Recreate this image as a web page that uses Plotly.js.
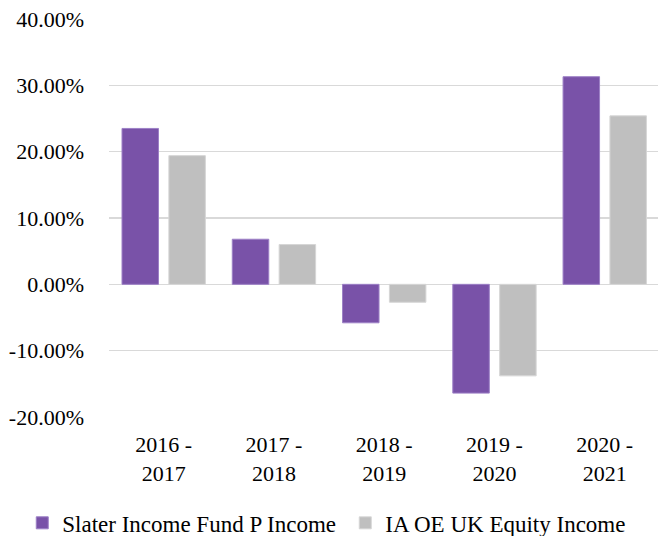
<!DOCTYPE html>
<html>
<head>
<meta charset="utf-8">
<script src="https://cdn.plot.ly/plotly-3.0.1.min.js"></script>
<style>
html, body { margin: 0; padding: 0; background: #ffffff; }
#chart { width: 658px; height: 536px; }
</style>
</head>
<body>
<div id="chart"></div>
<script>
const categories = ["2016 -<br>2017", "2017 -<br>2018", "2018 -<br>2019", "2019 -<br>2020", "2020 -<br>2021"];
const seriesNames = ["Slater Income Fund P Income", "IA OE UK Equity Income"];
const slaterValues = [0.235, 0.068, -0.058, -0.164, 0.313];
const sectorValues = [0.194, 0.060, -0.027, -0.138, 0.254];
const yTickValues = [-0.2, -0.1, 0, 0.1, 0.2, 0.3, 0.4];
const yTickLabels = ["-20.00%", "-10.00%", "0.00%", "10.00%", "20.00%", "30.00%", "40.00%"];

const fontFamily = "Times New Roman, Liberation Serif, serif";

const traces = [
  {
    type: "bar",
    name: seriesNames[0],
    x: categories,
    y: slaterValues,
    width: 0.331,
    offset: -0.378,
    marker: { color: "#7952A8", line: { color: "#9d80c6", width: 1 } },
    hoverinfo: "skip"
  },
  {
    type: "bar",
    name: seriesNames[1],
    x: categories,
    y: sectorValues,
    width: 0.331,
    offset: 0.047,
    marker: { color: "#BFBFBF", line: { color: "#d6d6d6", width: 1 } },
    hoverinfo: "skip"
  }
];

const layout = {
  width: 658,
  height: 536,
  margin: { l: 109, r: 0, t: 19, b: 119, autoexpand: false },
  paper_bgcolor: "#ffffff",
  plot_bgcolor: "#ffffff",
  font: { family: fontFamily, size: 22, color: "#000000" },
  barmode: "overlay",
  showlegend: true,
  legend: {
    orientation: "h",
    x: -0.158,
    xanchor: "left",
    y: -0.266,
    yanchor: "middle",
    font: { family: fontFamily, size: 23, color: "#000000" },
    itemwidth: 30,
    entrywidth: 278,
    tracegroupgap: 0,
    bgcolor: "rgba(0,0,0,0)"
  },
  xaxis: {
    type: "category",
    range: [-0.496, 4.483],
    showgrid: false,
    zeroline: false,
    showline: false,
    ticks: "",
    ticklabelstandoff: 12,
    tickfont: { family: fontFamily, size: 22, color: "#000000" },
    fixedrange: true
  },
  yaxis: {
    range: [-0.2, 0.4],
    tickvals: yTickValues,
    ticktext: yTickLabels,
    showgrid: true,
    gridcolor: "#d9d9d9",
    gridwidth: 1.3,
    zeroline: true,
    zerolinecolor: "#d9d9d9",
    zerolinewidth: 1.3,
    showline: false,
    ticks: "",
    ticklabelstandoff: 24,
    tickfont: { family: fontFamily, size: 22, color: "#000000" },
    fixedrange: true
  }
};

Plotly.newPlot("chart", traces, layout, { displayModeBar: false, staticPlot: true });
</script>
</body>
</html>
